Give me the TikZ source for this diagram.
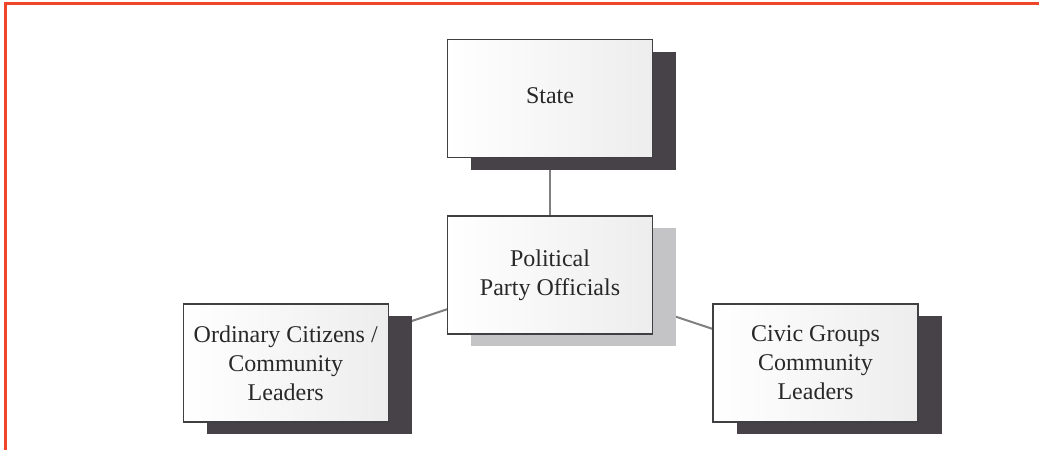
\documentclass[tikz,border=0pt]{standalone}
\usepackage{fontspec}
\setmainfont{Liberation Serif}
\usetikzlibrary{shadows,backgrounds}
\definecolor{framered}{RGB}{240,70,40}
\definecolor{boxline}{RGB}{64,64,66}
\definecolor{darkshadow}{RGB}{70,66,72}
\definecolor{lightshadow}{RGB}{196,196,198}
\definecolor{linkgray}{RGB}{128,128,128}
\definecolor{txt}{RGB}{40,40,40}
\tikzset{
  orgbox/.style={draw=boxline, line width=0.65pt, left color=white, right color=gray!14,
    minimum width=102.5pt, minimum height=59pt, inner sep=0pt, align=center,
    text=txt, font=\fontsize{12}{14.5}\selectfont},
  darkdrop/.style={general shadow={shadow xshift=11.75pt, shadow yshift=-6pt, fill=darkshadow}},
  lightdrop/.style={general shadow={shadow xshift=11.75pt, shadow yshift=-6pt, fill=lightshadow}},
  link/.style={draw=linkgray, line width=1pt},
}
\begin{document}
\begin{tikzpicture}[x=0.5pt, y=-0.5pt]
  \useasboundingbox (0,0) rectangle (1039,450);
  % page frame
  \draw[framered, line width=1.1pt] (1039,3.5) -- (5.5,3.5) -- (5.5,450);
  % boxes
  \node[orgbox, darkdrop]  (state)  at (550,98.5)   {\raisebox{2.75pt}{State}};
  \node[orgbox, lightdrop] (party)  at (550,275)    {Political\\Party Officials};
  \node[orgbox, darkdrop]  (citizens) at (285.7,363) {Ordinary Citizens /\\Community\\Leaders};
  \node[orgbox, darkdrop]  (civic)  at (815.5,363)  {Civic Groups\\Community\\Leaders};
  % connectors behind the boxes
  \begin{scope}[on background layer]
    \draw[link] (state.center) -- (party.center);
    \draw[link] (party.center) -- (citizens.center);
    \draw[link] (party.center) -- (civic.center);
  \end{scope}
\end{tikzpicture}
\end{document}
